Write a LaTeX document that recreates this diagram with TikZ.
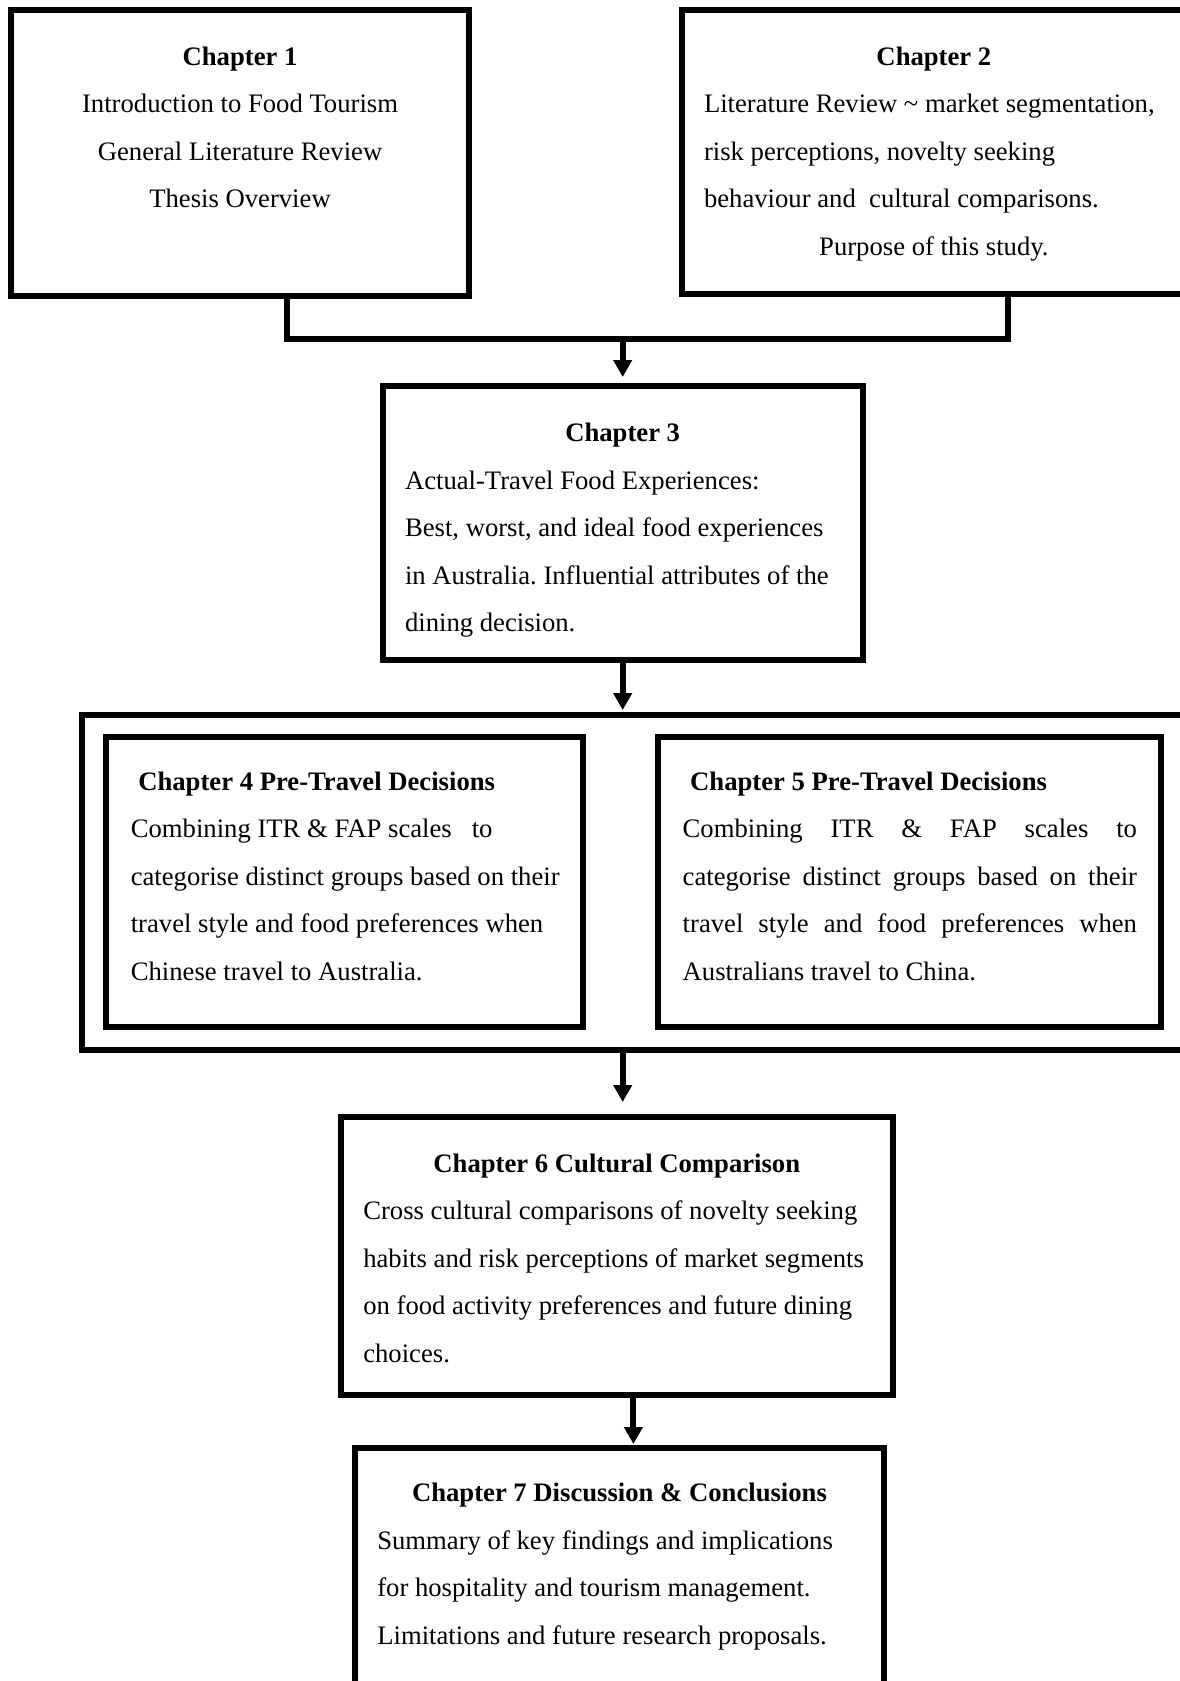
\documentclass[tikz,border=0pt]{standalone}
\usepackage{fontspec}
\setmainfont{Liberation Serif}
\usetikzlibrary{arrows.meta}
\frenchspacing
\begin{document}
\begin{tikzpicture}[x=1pt,y=-1pt,
  box/.style={draw, line width=6pt, inner sep=0pt, outer sep=0pt},
  txt/.style={anchor=base west, inner sep=0pt, outer sep=0pt,
    font=\fontsize{26.67}{47.6}\selectfont},
  conn/.style={line width=6pt},
  arr/.style={line width=6pt, -{Triangle[length=17pt,width=18pt]}}]
\useasboundingbox (0,0) rectangle (1180,1681);
\fill[white] (0,0) rectangle (1180,1681);
\clip (0,0) rectangle (1180,1681);

% chapter boxes
\node[box, minimum width=458.7pt, minimum height=285.4pt] (ch1) at (240,153) {};
\node[box, minimum width=504.3pt, minimum height=283.4pt] (ch2) at (933.9,152) {};
\node[box, minimum width=480.2pt, minimum height=274pt] (ch3) at (622.7,523) {};
\node[box, minimum width=1103.5pt, minimum height=335.5pt] (outer) at (633.3,882.3) {};
\node[box, minimum width=477pt, minimum height=290.3pt] (ch4) at (344.6,881.9) {};
\node[box, minimum width=502.6pt, minimum height=290.3pt] (ch5) at (909.4,881.9) {};
\node[box, minimum width=552pt, minimum height=278pt] (ch6) at (616.8,1256) {};
\node[box, minimum width=529.4pt, minimum height=252pt] (ch7) at (619.5,1574) {};

% texts
\node[txt] (t1) at (10.7,65) {\parbox[t]{458.7pt}{\centering
  \textbf{Chapter 1}\\
  Introduction to Food Tourism\\
  General Literature Review\\
  Thesis Overview}};

\node[txt] (t2) at (704,65) {\parbox[t]{459.8pt}{\centering
  \textbf{Chapter 2}\par
  \raggedright
  \mbox{Literature Review \textasciitilde{} market segmentation,}\\
  \mbox{risk perceptions, novelty seeking}\\
  \mbox{behaviour and\ \ cultural comparisons.}\par
  \centering Purpose of this study.\par}};

\node[txt] (t3) at (405,441.5) {\parbox[t]{435.4pt}{\centering
  \textbf{Chapter 3}\par
  \raggedright
  \mbox{Actual-Travel Food Experiences:}\\
  \mbox{Best, worst, and ideal food experiences}\\
  \mbox{in Australia. Influential attributes of the}\\
  \mbox{dining decision.}\par}};

\node[txt] (t4) at (130.8,790) {\parbox[t]{440pt}{\raggedright
  \mbox{\bfseries\hspace*{7.5pt}Chapter 4 Pre-Travel Decisions}\\
  \mbox{Combining ITR \& FAP scales\hspace{20pt}to}\\
  \mbox{categorise distinct groups based on their}\\
  \mbox{travel style and food preferences when}\\
  \mbox{Chinese travel to Australia.}\par}};

\node[txt] (t5) at (682.7,790) {\parbox[t]{454.3pt}{\raggedright
  \mbox{\bfseries\hspace*{7.5pt}Chapter 5 Pre-Travel Decisions}\\
  \makebox[454.3pt][s]{Combining ITR \& FAP scales to}\\
  \makebox[454.3pt][s]{categorise distinct groups based on their}\\
  \makebox[454.3pt][s]{travel style and food preferences when}\\
  \mbox{Australians travel to China.}\par}};

\node[txt] (t6) at (363.3,1172) {\parbox[t]{507pt}{\centering
  \textbf{Chapter 6 Cultural Comparison}\par
  \raggedright
  \mbox{Cross cultural comparisons of novelty seeking}\\
  \mbox{habits and risk perceptions of market segments}\\
  \mbox{on food activity preferences and future dining}\\
  \mbox{choices.}\par}};

\node[txt] (t7) at (377.3,1501.7) {\parbox[t]{484.4pt}{\centering
  \textbf{Chapter 7 Discussion \& Conclusions}\par
  \raggedright
  \mbox{Summary of key findings and implications}\\
  \mbox{for hospitality and tourism management.}\\
  \mbox{Limitations and future research proposals.}\par}};

% connectors
\coordinate (j) at (622.7,339);
\draw[conn] ([xshift=47.2pt]ch1.south) |- (j) -| ([xshift=73.6pt]ch2.south);
\draw[arr, shorten >=9pt] (j) -- (ch3.north);
\draw[arr, shorten >=4.5pt] (ch3.south) -- (ch3.south |- outer.north);
\draw[arr, shorten >=15pt] (ch3.south |- outer.south) -- (ch3.south |- ch6.north);
\coordinate (c67) at ([xshift=16.6pt]ch6.south);
\draw[arr, shorten >=4pt] (c67) -- (c67 |- ch7.north);
\end{tikzpicture}
\end{document}
